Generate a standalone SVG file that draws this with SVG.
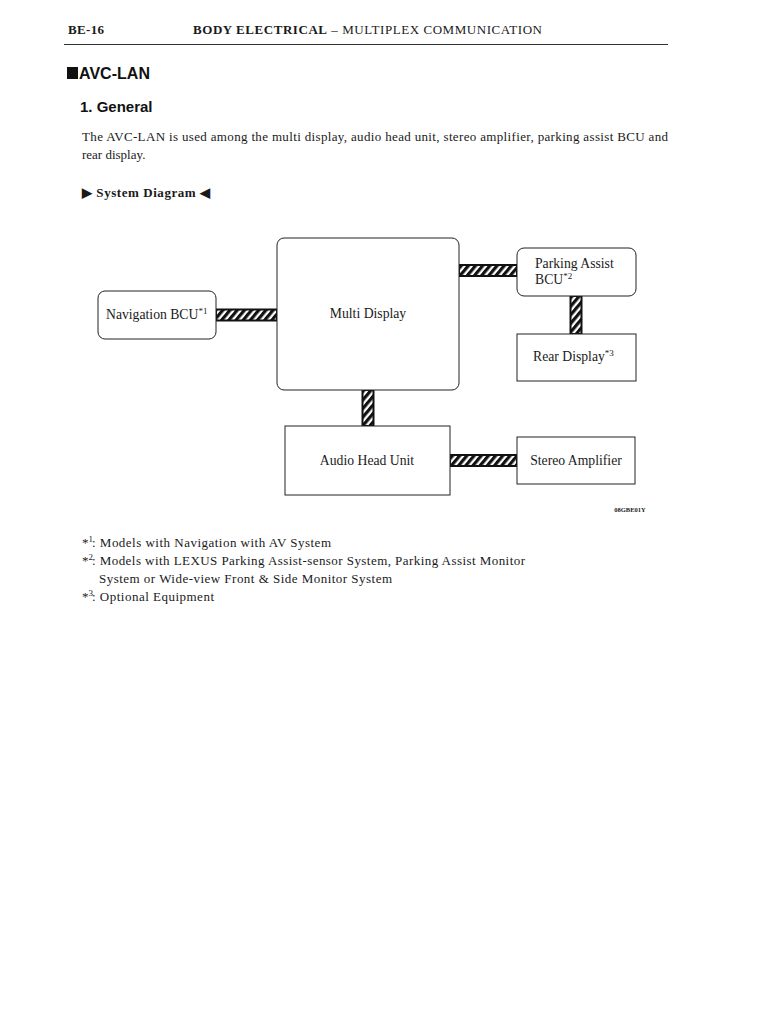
<svg xmlns="http://www.w3.org/2000/svg" width="768" height="1024" viewBox="0 0 768 1024">
<style>
.s{font-family:"Liberation Serif","Times New Roman",serif;fill:#1a1a1a}
.h{font-family:"Liberation Sans",Arial,sans-serif;font-weight:bold;fill:#111}
.n{font-size:13.7px}
.box{fill:#fff;stroke:#222;stroke-width:1}
.bar{fill:url(#hatch);stroke:#111;stroke-width:2}
</style>
<defs>
<pattern id="hatch" patternUnits="userSpaceOnUse" width="5.5" height="5.5" patternTransform="rotate(40)">
<rect x="0" y="0" width="5.5" height="5.5" fill="#fff"/>
<rect x="0" y="0" width="3.2" height="5.5" fill="#111"/>
</pattern>
</defs>
<rect width="768" height="1024" fill="#fff"/>
<text class="s" x="68" y="34" font-size="13" font-weight="bold" textLength="36">BE-16</text>
<text class="s" x="193" y="34" font-size="13" textLength="349"><tspan font-weight="bold">BODY ELECTRICAL</tspan> – MULTIPLEX COMMUNICATION</text>
<line x1="64" y1="44.5" x2="668" y2="44.5" stroke="#333" stroke-width="1"/>
<rect x="67" y="67" width="11" height="12" fill="#111"/>
<text class="h" x="79" y="79" font-size="16" textLength="71">AVC-LAN</text>
<text class="h" x="80" y="112" font-size="15">1.  General</text>
<text class="s" x="82" y="141" font-size="13" textLength="586">The AVC-LAN is used among the multi display, audio head unit, stereo amplifier, parking assist BCU and</text>
<text class="s" x="82" y="159" font-size="13">rear display.</text>
<text class="s" x="82" y="197" font-size="13" font-weight="bold" textLength="128">▶ System Diagram ◀</text>
<g id="connectors">
<rect class="bar" x="216" y="309.5" width="61" height="11"/>
<rect class="bar" x="459" y="265" width="58" height="11"/>
<rect class="bar" x="570.5" y="296" width="11" height="38"/>
<rect class="bar" x="362.5" y="390" width="11" height="36"/>
<rect class="bar" x="450" y="455" width="67" height="11"/>
</g>
<g id="multi-display">
<rect class="box" x="277" y="238" width="182" height="152" rx="7"/>
<text class="s n" x="368" y="318" text-anchor="middle">Multi Display</text>
</g>
<g id="navigation-bcu">
<rect class="box" x="98" y="291" width="118" height="48" rx="7"/>
<text class="s n" x="106" y="319">Navigation BCU<tspan font-size="9" dy="-5">*1</tspan></text>
</g>
<g id="parking-assist-bcu">
<rect class="box" x="517" y="248" width="119" height="48" rx="7"/>
<text class="s n" x="535" y="268">Parking Assist</text>
<text class="s n" x="535" y="284">BCU<tspan font-size="9" dy="-5">*2</tspan></text>
</g>
<g id="rear-display">
<rect class="box" x="517" y="334" width="119" height="47"/>
<text class="s n" x="533" y="361">Rear Display<tspan font-size="9" dy="-5">*3</tspan></text>
</g>
<g id="audio-head-unit">
<rect class="box" x="285" y="426" width="165" height="69"/>
<text class="s n" x="367" y="465" text-anchor="middle">Audio Head Unit</text>
</g>
<g id="stereo-amplifier">
<rect class="box" x="517" y="437" width="118" height="47"/>
<text class="s n" x="576" y="465" text-anchor="middle">Stereo Amplifier</text>
</g>
<text class="s" x="630" y="512" font-size="6.5" font-weight="bold" text-anchor="middle">08GBE01Y</text>
<g font-size="13">
<text class="s" x="82" y="547">*<tspan font-size="9" dy="-5">1</tspan></text>
<text class="s" x="92" y="547" textLength="239">: Models with Navigation with AV System</text>
<text class="s" x="82" y="565">*<tspan font-size="9" dy="-5">2</tspan></text>
<text class="s" x="92" y="565" textLength="433">: Models with LEXUS Parking Assist-sensor System, Parking Assist Monitor</text>
<text class="s" x="99" y="583" textLength="293">System or Wide-view Front &amp; Side Monitor System</text>
<text class="s" x="82" y="601">*<tspan font-size="9" dy="-5">3</tspan></text>
<text class="s" x="92" y="601" textLength="122">: Optional Equipment</text>
</g>
</svg>
